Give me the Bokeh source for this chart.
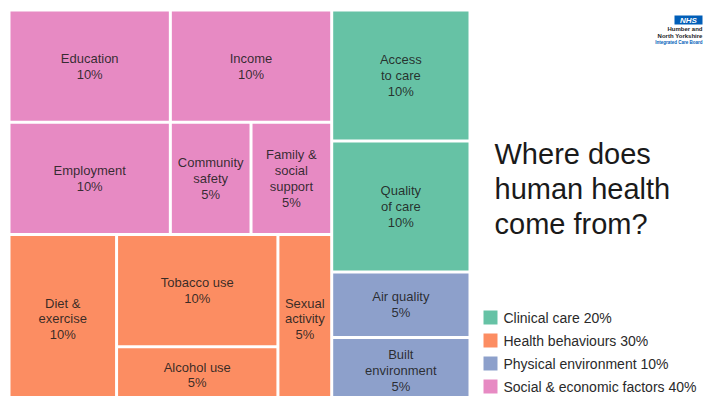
from bokeh.plotting import figure
from bokeh.models import ColumnDataSource, Range1d
from bokeh.embed import file_html
from bokeh.resources import INLINE
from bokeh.core.properties import value

# ---------------- data ----------------
factors = ["Education", "Income", "Employment", "Community safety", "Family & social support",
           "Diet & exercise", "Tobacco use", "Alcohol use", "Sexual activity",
           "Access to care", "Quality of care", "Air quality", "Built environment"]
tile_names = ["Education", "Income", "Employment", "Community\nsafety", "Family &\nsocial\nsupport",
              "Diet &\nexercise", "Tobacco use", "Alcohol use", "Sexual\nactivity",
              "Access\nto care", "Quality\nof care", "Air quality", "Built\nenvironment"]
factor_groups = ["Social & economic factors"] * 5 + ["Health behaviours"] * 4 + \
                ["Clinical care"] * 2 + ["Physical environment"] * 2
shares = [10, 10, 10, 5, 5, 10, 10, 5, 5, 10, 10, 5, 5]

legend_groups = ["Clinical care", "Health behaviours", "Physical environment", "Social & economic factors"]
group_colors = ["#66c2a5", "#fc8d62", "#8da0cb", "#e78ac3"]

title_lines = ["Where does", "human health", "come from?"]
logo_lines = ["Humber and", "North Yorkshire", "Integrated Care Board"]

# slice-and-dice structure of the treemap (indices into factors)
layout_tree = ("h", [
    ("v", [("v", [("h", [0, 1]), ("h", [2, 3, 4])]),
           ("h", [5, ("v", [6, 7]), 8])]),
    ("v", [("v", [9, 10]), ("v", [11, 12])]),
])

# ---------------- layout ----------------
W, H = 705, 396
GAP = 3
TX0, TY0, TX1, TY1 = 10, 11, 468, 401


def weight(node):
    if isinstance(node, int):
        return shares[node]
    return sum(weight(c) for c in node[1])


def place(node, x0, y0, x1, y1, out):
    if isinstance(node, int):
        out[node] = (x0, y0, x1, y1)
        return
    d, kids = node
    tot = weight(node)
    pos = x0 if d == "h" else y0
    for k in kids:
        frac = weight(k) / tot
        if d == "h":
            w = (x1 - x0) * frac
            place(k, pos, y0, pos + w, y1, out)
            pos += w
        else:
            h = (y1 - y0) * frac
            place(k, x0, pos, x1, pos + h, out)
            pos += h


boxes = {}
place(layout_tree, TX0 - GAP / 2, TY0 - GAP / 2, TX1 + GAP / 2, TY1 + GAP / 2, boxes)

color_of = dict(zip(legend_groups, group_colors))
left, right, top, bottom, cx, cy, colors, labels = [], [], [], [], [], [], [], []
for i in range(len(factors)):
    x0, y0, x1, y1 = boxes[i]
    left.append(x0 + GAP / 2)
    right.append(x1 - GAP / 2)
    top.append(y0 + GAP / 2)
    bottom.append(y1 - GAP / 2)
    cx.append((x0 + x1) / 2)
    cy.append((y0 + y1) / 2)
    colors.append(color_of[factor_groups[i]])
    labels.append(f"{tile_names[i]}\n{shares[i]}%")

src = ColumnDataSource(dict(left=left, right=right, top=top, bottom=bottom,
                            cx=cx, cy=cy, color=colors, label=labels))

p = figure(width=W, height=H, x_range=Range1d(0, W), y_range=Range1d(H, 0),
           output_backend="svg", toolbar_location=None, min_border=0,
           background_fill_color="white", border_fill_color="white")
p.axis.visible = False
p.grid.visible = False
p.outline_line_color = None

FONT = value("Liberation Sans")

p.quad(left="left", right="right", top="top", bottom="bottom", source=src,
       fill_color="color", line_color=None)
p.text(x="cx", y="cy", text="label", source=src, text_align="center",
       text_baseline="middle", text_font=FONT, text_font_size="13px",
       text_color="#1e1e1e", text_alpha=0.9, text_line_height=1.05)

# title
p.text(x=[494] * 3, y=[153 + 35 * i for i in range(3)], text=title_lines,
       text_font=FONT, text_font_size="29px", text_color="#1a1a1a",
       text_align="left", text_baseline="middle")

# legend
totals = [sum(v for v, g in zip(shares, factor_groups) if g == lg) for lg in legend_groups]
ly = [317 + 23 * i for i in range(len(legend_groups))]
p.rect(x=[490] * 4, y=ly, width=14, height=14, fill_color=group_colors, line_color=None)
p.text(x=[503] * 4, y=ly, text=[f"{g} {t}%" for g, t in zip(legend_groups, totals)],
       text_font=FONT, text_font_size="14px", text_color="#2a2a2a",
       text_align="left", text_baseline="middle")

# logo
p.quad(left=[674], right=[702], top=[15], bottom=[24], fill_color="#005eb8", line_color=None)
p.text(x=[688], y=[19.5], text=["NHS"], text_font=FONT, text_font_size="8px",
       text_font_style="bold italic", text_color="white", text_align="center",
       text_baseline="middle")
p.text(x=[702] * 3, y=[28.5, 35, 41.5], text=logo_lines, text_font=FONT,
       text_font_size=["6px", "6px", "4.5px"], text_font_style="bold",
       text_color=["#222222", "#222222", "#005eb8"], text_align="right",
       text_baseline="middle")

open("out.html", "w").write(file_html(p, INLINE))
